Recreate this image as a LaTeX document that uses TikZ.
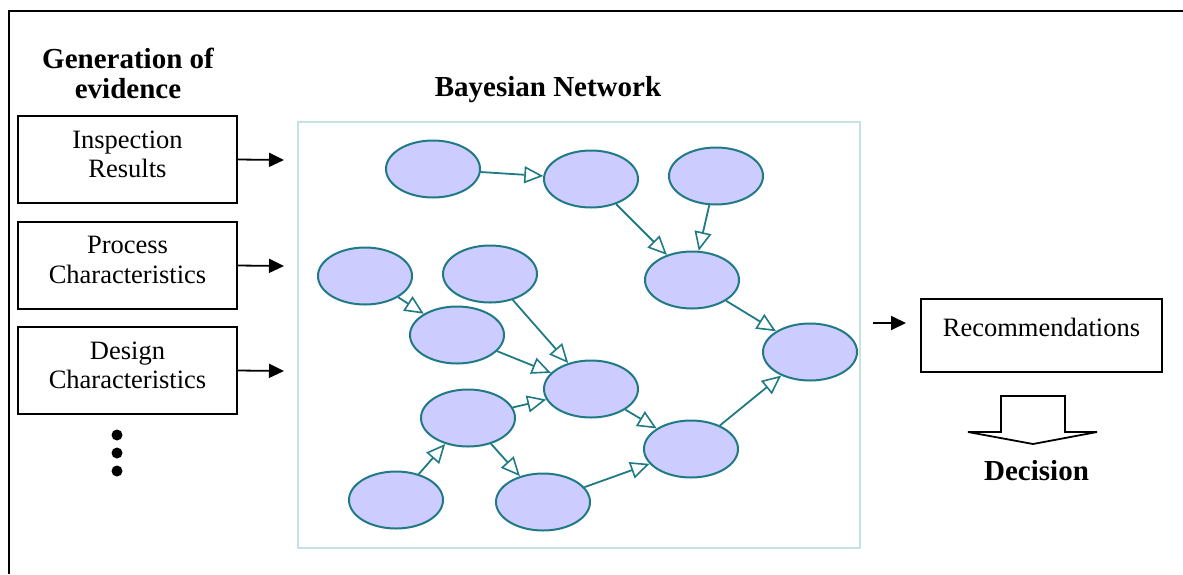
\documentclass[tikz,border=0pt]{standalone}
\usepackage{fontspec}
\setmainfont{Liberation Serif}
\usetikzlibrary{arrows.meta,shapes.geometric}

\definecolor{bnfill}{RGB}{204,204,255}
\definecolor{bnline}{RGB}{32,122,132}
\definecolor{bnframe}{RGB}{196,226,228}

\begin{document}
\begin{tikzpicture}[x=1pt,y=-1pt,
  bnode/.style={ellipse, draw=bnline, fill=bnfill, line width=2pt,
    minimum width=94pt, minimum height=57pt, inner sep=0pt},
  bedge/.style={draw=bnline, line width=1.8pt,
    -{Triangle[open, length=19pt, width=17pt, line width=1.6pt]}},
  evbox/.style={draw, line width=1.8pt, minimum width=219pt, minimum height=87pt,
    align=center, font=\fontsize{26.5}{29.5}\selectfont, inner sep=0pt, text depth=11pt},
  feed/.style={line width=1.8pt, -{Triangle[length=15pt, width=14pt]}},
  bigtitle/.style={font=\fontsize{29}{30}\selectfont\bfseries, align=center},
  plain/.style={font=\fontsize{26.5}{30}\selectfont},
]
\useasboundingbox (0,0) rectangle (1183,574);

% outer rule along the top and left
\draw[line width=2.5pt] (1183,11) -- (9,11) -- (9,574);

% headings
\node[bigtitle] (gen) at (128,73) {Generation of\\evidence};
\node[bigtitle, anchor=base] (bntitle) at (548,96) {Bayesian Network};

% evidence sources
\node[evbox] (ev1) at (127.5,159.5) {Inspection\\Results};
\node[evbox] (ev2) at (127.5,265.5) {Process\\Characteristics};
\node[evbox] (ev3) at (127.5,370.5) {Design\\Characteristics};
\fill (117,435) circle (5.5);
\fill (117,453) circle (5.5);
\fill (117,471) circle (5.5);

% network panel
\node[draw=bnframe, line width=1.5pt, minimum width=562pt, minimum height=426pt,
  inner sep=0pt] (bnet) at (579,335) {};

\coordinate (in1) at (284,160);
\coordinate (in2) at (284,266);
\coordinate (in3) at (284,371);
\draw[feed] (ev1.east) -- (in1);
\draw[feed] (ev2.east) -- (in2);
\draw[feed] (ev3.east) -- (in3);

% network nodes
\node[bnode] (n1)  at (433,169) {};
\node[bnode] (n2)  at (591,179) {};
\node[bnode] (n3)  at (716,176) {};
\node[bnode] (n4)  at (692,280) {};
\node[bnode] (n5)  at (365,276) {};
\node[bnode] (n6)  at (490,274) {};
\node[bnode] (n7)  at (457,335) {};
\node[bnode] (n8)  at (591,389) {};
\node[bnode] (n9)  at (468,418) {};
\node[bnode] (n10) at (396,500) {};
\node[bnode] (n11) at (543,502) {};
\node[bnode] (n12) at (691,449) {};
\node[bnode] (n13) at (810,352) {};

% network links
\draw[bedge] (n1) -- (n2);
\draw[bedge] (n2) -- (n4);
\draw[bedge] (n3) -- (n4);
\draw[bedge] (n5) -- (n7);
\draw[bedge] (n6) -- (n8);
\draw[bedge] (n7) -- (n8);
\draw[bedge] (n9) -- (n8);
\draw[bedge] (n10) -- (n9);
\draw[bedge] (n9) -- (n11);
\draw[bedge] (n8) -- (n12);
\draw[bedge] (n11) -- (n12);
\draw[bedge] (n4) -- (n13);
\draw[bedge] (n12) -- (n13);

% output side
\node[draw, line width=1.8pt, minimum width=241pt, minimum height=73pt, inner sep=0pt,
  plain, text depth=17pt] (rec) at (1041.5,335.5) {Recommendations};
\coordinate (out0) at (873,323);
\coordinate (out1) at (906,323);
\draw[feed] (out0) -- (out1);

% block arrow towards the decision
\draw[line width=1.8pt, line join=miter, fill=white]
  (1001,396) -- (1065,396) -- (1065,432) -- (1097,432) -- (1033,444)
  -- (968,432) -- (1001,432) -- cycle;
\node[bigtitle, anchor=base] (dec) at (1036.5,480) {Decision};
\end{tikzpicture}
\end{document}
